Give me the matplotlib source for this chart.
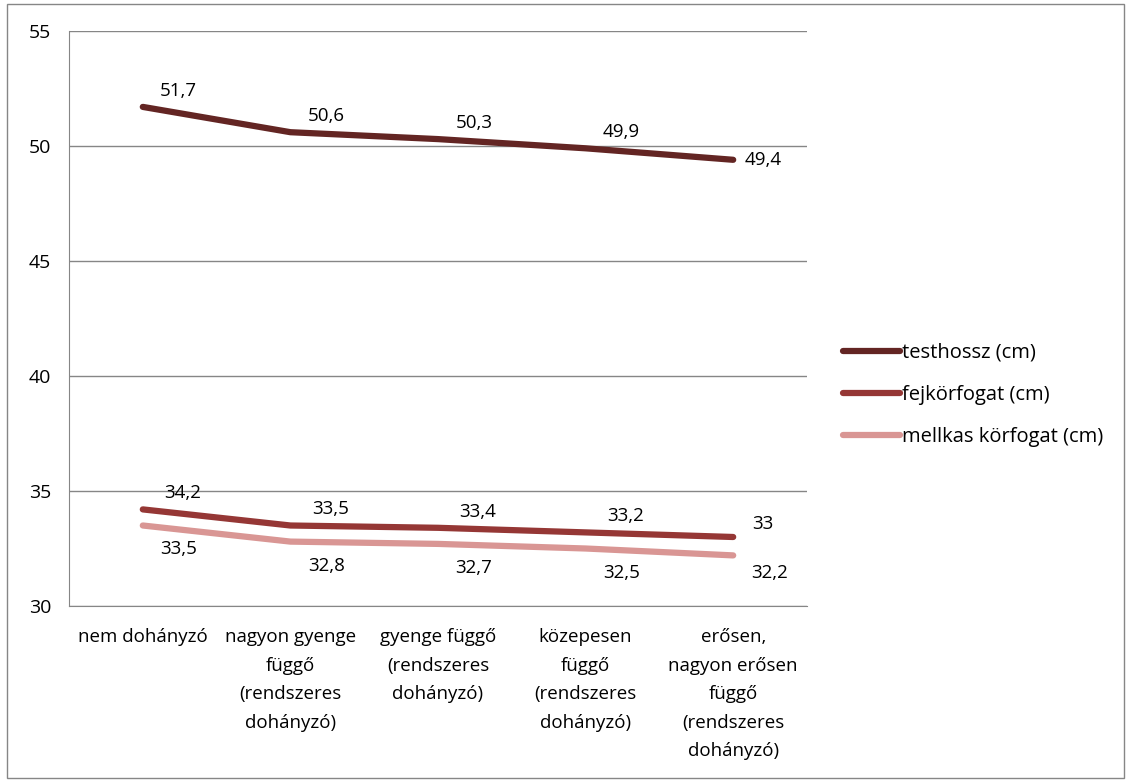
import matplotlib.pyplot as plt
from matplotlib.patches import Rectangle

categories = ["nem dohányzó", "nagyon gyenge\nfüggő\n(rendszeres\ndohányzó)",
              "gyenge függő\n(rendszeres\ndohányzó)", "közepesen\nfüggő\n(rendszeres\ndohányzó)",
              "erősen,\nnagyon erősen\nfüggő\n(rendszeres\ndohányzó)"]
testhossz = [51.7, 50.6, 50.3, 49.9, 49.4]
fejkorfogat = [34.2, 33.5, 33.4, 33.2, 33.0]
mellkas = [33.5, 32.8, 32.7, 32.5, 32.2]

# label offsets in pixels (dx, dy up)
series = [
    ("testhossz (cm)", testhossz, "#632523", [(36, 16)] * 4 + [(30, 0)]),
    ("fejkörfogat (cm)", fejkorfogat, "#953735", [(40, 16)] * 4 + [(30, 13)]),
    ("mellkas körfogat (cm)", mellkas, "#D99694", [(36, -24)] * 4 + [(36, -18)]),
]

plt.rcParams['font.family'] = ['Open Sans', 'DejaVu Sans']
fig = plt.figure(figsize=(11.26, 7.8), dpi=100)
ax = fig.add_axes([69 / 1126, 1 - 606 / 780, 738 / 1126, 575 / 780])

x = list(range(len(categories)))
for name, vals, color, offs in series:
    ax.plot(x, vals, color=color, linewidth=4.5, solid_capstyle='round', label=name, zorder=3)
    for xi, v, (dx, dy) in zip(x, vals, offs):
        txt = f"{v:g}".replace(".", ",")
        ax.annotate(txt, (xi, v), xytext=(dx * 0.72, dy * 0.72), textcoords='offset points',
                    ha='center', va='center', fontsize=13.5)

ax.set_xlim(-0.5, len(categories) - 0.5)
ax.set_ylim(30, 55)
ax.set_yticks([30, 35, 40, 45, 50, 55])
ax.set_xticks(x)
ax.set_xticklabels(categories, fontsize=13.5, linespacing=1.75, va='top')
ax.tick_params(axis='both', length=0)
ax.tick_params(axis='y', pad=13, labelsize=14)
ax.tick_params(axis='x', pad=16)
ax.grid(axis='y', color='#868686', linewidth=1)
for s in ['top', 'right']:
    ax.spines[s].set_visible(False)
for s in ['left', 'bottom']:
    ax.spines[s].set_color('#868686')

ax.legend(loc='center left', bbox_to_anchor=(756 / 738, 1 - (395 - 31) / 575),
          frameon=False, fontsize=14.5, handlelength=2.8, handletextpad=0.1, labelspacing=1.1)

fig.patches.append(Rectangle((7 / 1126, 2 / 780), 1117 / 1126, 774 / 780, transform=fig.transFigure,
                             fill=False, edgecolor='#868686', linewidth=1))

plt.savefig("out.png", dpi=100)
plt.close()
